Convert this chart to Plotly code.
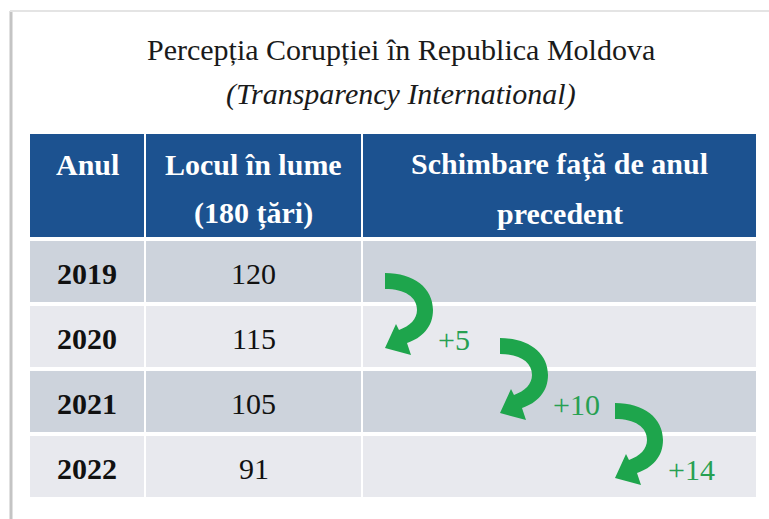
import plotly.graph_objects as go

# ---- data ----
title_lines = ["Percepția Corupției în Republica Moldova", "(Transparency International)"]
header_lines = [["Anul"], ["Locul în lume", "(180 țări)"], ["Schimbare față de anul", "precedent"]]
years = ["2019", "2020", "2021", "2022"]
ranks = [120, 115, 105, 91]
changes = ["+5", "+10", "+14"]

# ---- layout constants (pixel-like axis units) ----
W, H = 769, 519
col_x = [29, 145, 362, 757]
header_top, header_bot = 133, 238
row_top0, row_pitch, row_h = 240, 65, 63
header_line_y = [164, 213]
title_y = [49, 94]
FONT = "Liberation Serif"
BLUE = "#1c5290"
ROW_FILLS = ["#cdd3dc", "#e8e9ee"]
GREEN = "#1ea54c"
LABEL_GREEN = "#27a052"

fig = go.Figure()
fig.add_trace(go.Scatter(x=[0, W], y=[0, H], mode="markers",
                         marker=dict(opacity=0), hoverinfo="skip", showlegend=False))

shapes = []
annotations = []

# card border
shapes.append(dict(type="line", x0=11, x1=11, y0=11, y1=H, line=dict(color="#c4c4c4", width=3), layer="below"))
shapes.append(dict(type="line", x0=10, x1=W, y0=11, y1=11, line=dict(color="#e4e4e4", width=2), layer="below"))

# titles
annotations.append(dict(x=401, y=title_y[0], text=title_lines[0], showarrow=False,
                        font=dict(family=FONT, size=30, color="#1a1a1a"), xanchor="center", yanchor="middle"))
annotations.append(dict(x=401, y=title_y[1], text="<i>" + title_lines[1] + "</i>", showarrow=False,
                        font=dict(family=FONT, size=30, color="#1a1a1a"), xanchor="center", yanchor="middle"))

# header cells
for c in range(3):
    shapes.append(dict(type="rect", x0=col_x[c], x1=col_x[c + 1], y0=header_top, y1=header_bot,
                       fillcolor=BLUE, line=dict(color="white", width=2), layer="below"))
    cx = (col_x[c] + col_x[c + 1]) / 2
    for k, line in enumerate(header_lines[c]):
        annotations.append(dict(x=cx, y=header_line_y[k], text="<b>" + line + "</b>", showarrow=False,
                                font=dict(family=FONT, size=30, color="white"),
                                xanchor="center", yanchor="middle"))

# body rows
for i, (yr, rk) in enumerate(zip(years, ranks)):
    y0 = row_top0 + i * row_pitch
    y1 = y0 + row_h
    for c in range(3):
        shapes.append(dict(type="rect", x0=col_x[c], x1=col_x[c + 1], y0=y0, y1=y1,
                           fillcolor=ROW_FILLS[i % 2], line=dict(color="white", width=2), layer="below"))
    yc = (y0 + y1) / 2 + 2
    annotations.append(dict(x=(col_x[0] + col_x[1]) / 2, y=yc, text="<b>" + yr + "</b>", showarrow=False,
                            font=dict(family=FONT, size=30, color="#111111"), xanchor="center", yanchor="middle"))
    annotations.append(dict(x=(col_x[1] + col_x[2]) / 2, y=yc, text=str(rk), showarrow=False,
                            font=dict(family=FONT, size=30, color="#111111"), xanchor="center", yanchor="middle"))

# curved arrows (glyph template in local units)
arrow_tpl = [("M", 0, 0), ("C", 29, 0, 48, 15, 48, 37), ("C", 48, 54, 37, 65, 22, 70),
             ("L", 26, 82), ("L", 0, 75), ("L", 11, 51), ("L", 14, 57),
             ("C", 25, 53, 32, 46, 32, 37), ("C", 32, 24, 20, 16, 0, 16)]


def arrow_path(ox, oy):
    parts = []
    for seg in arrow_tpl:
        cmd, pts = seg[0], seg[1:]
        coords = []
        for j in range(0, len(pts), 2):
            coords.append(f"{ox + pts[j]:.1f},{oy + pts[j + 1]:.1f}")
        parts.append(cmd + " " + " ".join(coords))
    return " ".join(parts) + " Z"


for i, ch in enumerate(changes):
    ox = col_x[2] + 23 + i * 115
    oy = row_top0 + i * row_pitch + 33
    shapes.append(dict(type="path", path=arrow_path(ox, oy), fillcolor=GREEN,
                       line=dict(width=0), layer="above"))
    to_center = row_top0 + (i + 1) * row_pitch + row_h / 2
    annotations.append(dict(x=ox + 51, y=to_center + 3, text=ch, showarrow=False,
                            font=dict(family=FONT, size=30, color=LABEL_GREEN),
                            xanchor="left", yanchor="middle"))

fig.update_layout(
    width=W, height=H,
    margin=dict(l=0, r=0, t=0, b=0),
    paper_bgcolor="white", plot_bgcolor="white",
    xaxis=dict(range=[0, W], visible=False, fixedrange=True),
    yaxis=dict(range=[H, 0], visible=False, fixedrange=True),
    shapes=shapes, annotations=annotations,
    showlegend=False,
)
fig.write_html("out.html", config={"displayModeBar": False},
               post_script="document.body.style.margin='0';document.body.style.overflow='hidden';")
